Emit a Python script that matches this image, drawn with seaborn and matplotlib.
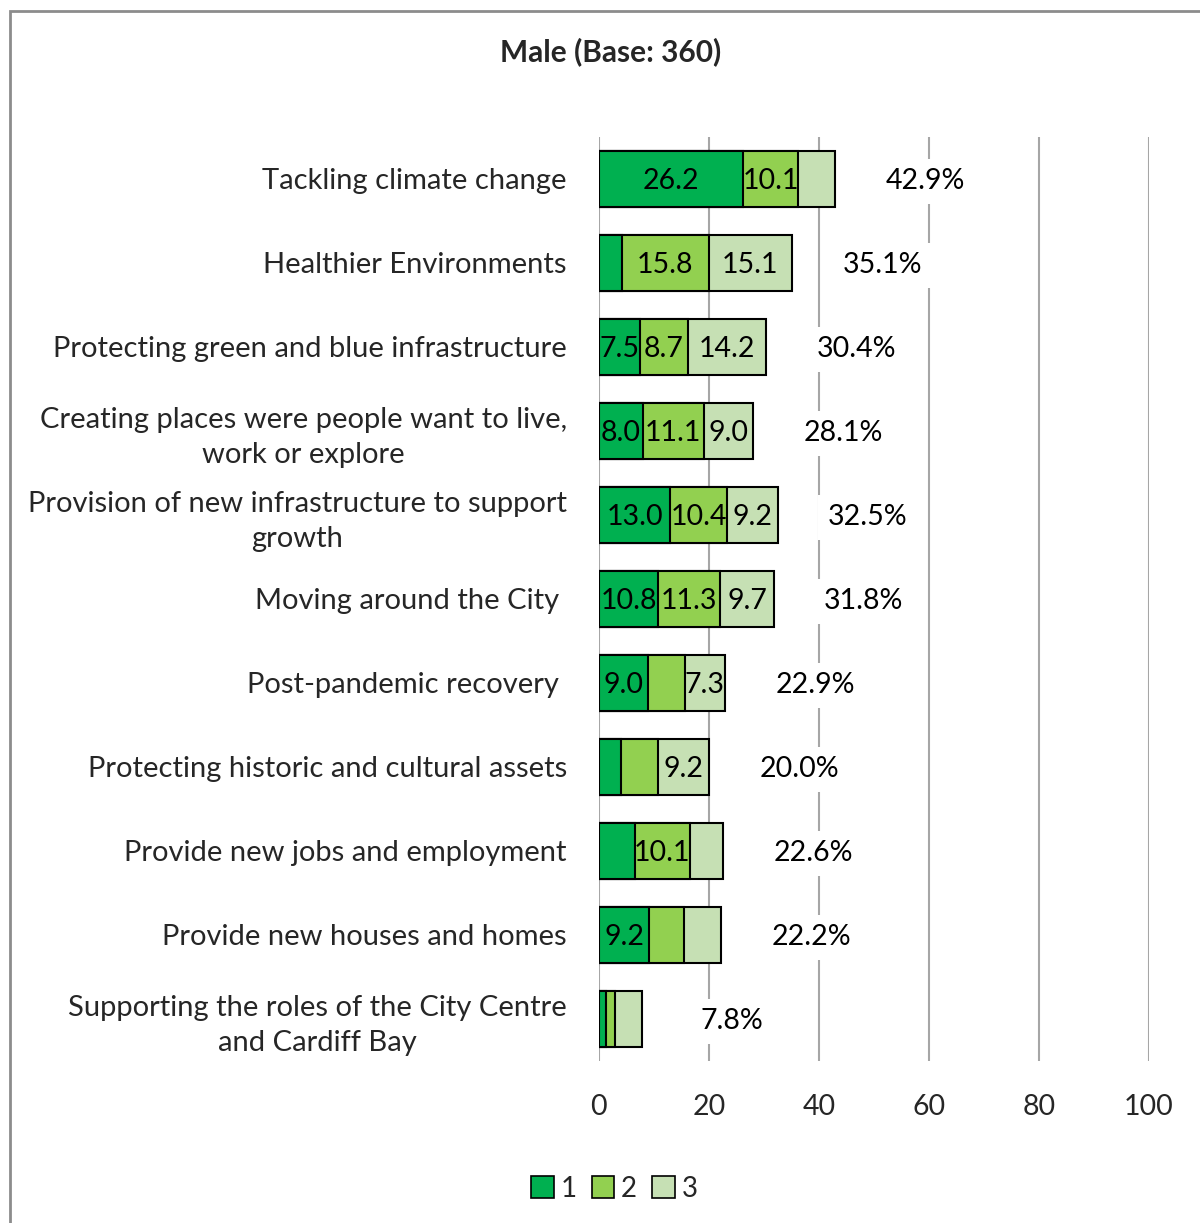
import numpy as np
import pandas as pd
import matplotlib.pyplot as plt
import matplotlib.patches as mpatches
import seaborn as sns

# Data
categories = [
    "Tackling climate change",
    "Healthier Environments",
    "Protecting green and blue infrastructure",
    "Creating places were people want to live,\nwork or explore",
    "Provision of new infrastructure to support\ngrowth",
    "Moving around the City ",
    "Post-pandemic recovery ",
    "Protecting historic and cultural assets",
    "Provide new jobs and employment",
    "Provide new houses and homes",
    "Supporting the roles of the City Centre\nand Cardiff Bay",
]
rank1 = [26.2, 4.2, 7.5, 8.0, 13.0, 10.8, 9.0, 4.0, 6.5, 9.2, 1.3]
rank2 = [10.1, 15.8, 8.7, 11.1, 10.4, 11.3, 6.6, 6.8, 10.1, 6.3, 1.6]
rank3 = [6.6, 15.1, 14.2, 9.0, 9.2, 9.7, 7.3, 9.2, 6.0, 6.7, 4.9]
totals = [42.9, 35.1, 30.4, 28.1, 32.5, 31.8, 22.9, 20.0, 22.6, 22.2, 7.8]

colors = ["#00B050", "#92D050", "#C6E0B4"]
series_names = ["1", "2", "3"]

df = pd.DataFrame({"cat": categories, "r1": rank1, "r2": rank2, "r3": rank3})
df["c2"] = df["r1"] + df["r2"]
df["c3"] = df["c2"] + df["r3"]

sns.set_theme(style="white")
plt.rcParams["font.family"] = ["Lato", "DejaVu Sans"]

fig = plt.figure(figsize=(12, 12.23), dpi=100)
ax = fig.add_axes([0.499, 0.1325, 0.4583, 0.7555])

# stacked bars: draw cumulative totals back to front
for col, c in [("c3", colors[2]), ("c2", colors[1]), ("r1", colors[0])]:
    sns.barplot(data=df, x=col, y="cat", color=c, saturation=1,
                edgecolor="black", linewidth=1.5, width=0.67, orient="h",
                ax=ax, zorder=3)

# segment value labels
lefts = [np.zeros(len(rank1)), np.array(rank1), df["c2"].values]
for vals, left in zip([rank1, rank2, rank3], lefts):
    for i, v in enumerate(vals):
        if v >= 7:
            ax.text(left[i] + v / 2, i + 0.03, f"{v:.1f}", ha="center",
                    va="center", fontsize=20.5, color="black", zorder=5)

# total labels
for i, t in enumerate(totals):
    ax.text(t + 16.4, i + 0.03, f"{t:.1f}%", ha="center", va="center",
            fontsize=20.5, color="black", zorder=4,
            bbox=dict(facecolor="white", edgecolor="none", pad=7))

ax.set_xlim(0, 100)
ax.set_ylim(10.5, -0.5)
ax.set_xticks([0, 20, 40, 60, 80, 100])
for xv in [0, 20, 40, 60, 80, 100]:
    ax.axvline(xv, color="#A6A6A6", lw=1.5, zorder=1)
ax.set_xlabel("")
ax.set_ylabel("")
for s in ax.spines.values():
    s.set_visible(False)
ax.tick_params(axis="x", labelsize=20.5, pad=24, length=0)
ax.tick_params(axis="y", labelsize=21, pad=23, length=0)
for lab in ax.get_yticklabels():
    lab.set_multialignment("center")
    lab.set_linespacing(1.4)

fig.text(0.509, 0.958, "Male (Base: 360)", ha="center", va="center",
         fontsize=21.5, fontweight="bold")

handles = [mpatches.Patch(facecolor=c, edgecolor="black", lw=1.2, label=n)
           for c, n in zip(colors, series_names)]
fig.legend(handles=handles, loc="center", bbox_to_anchor=(0.512, 0.028),
           ncol=3, frameon=False, fontsize=20, handlelength=0.8,
           handleheight=0.8, handletextpad=0.25, columnspacing=0.55)

frame = mpatches.Rectangle((10 / 1200, -0.1), 1.2, 1.1 - 11 / 1223,
                           transform=fig.transFigure, fill=False,
                           edgecolor="#8C8C8C", lw=2)
fig.patches.append(frame)

fig.savefig("out.png", dpi=100, facecolor="white")
